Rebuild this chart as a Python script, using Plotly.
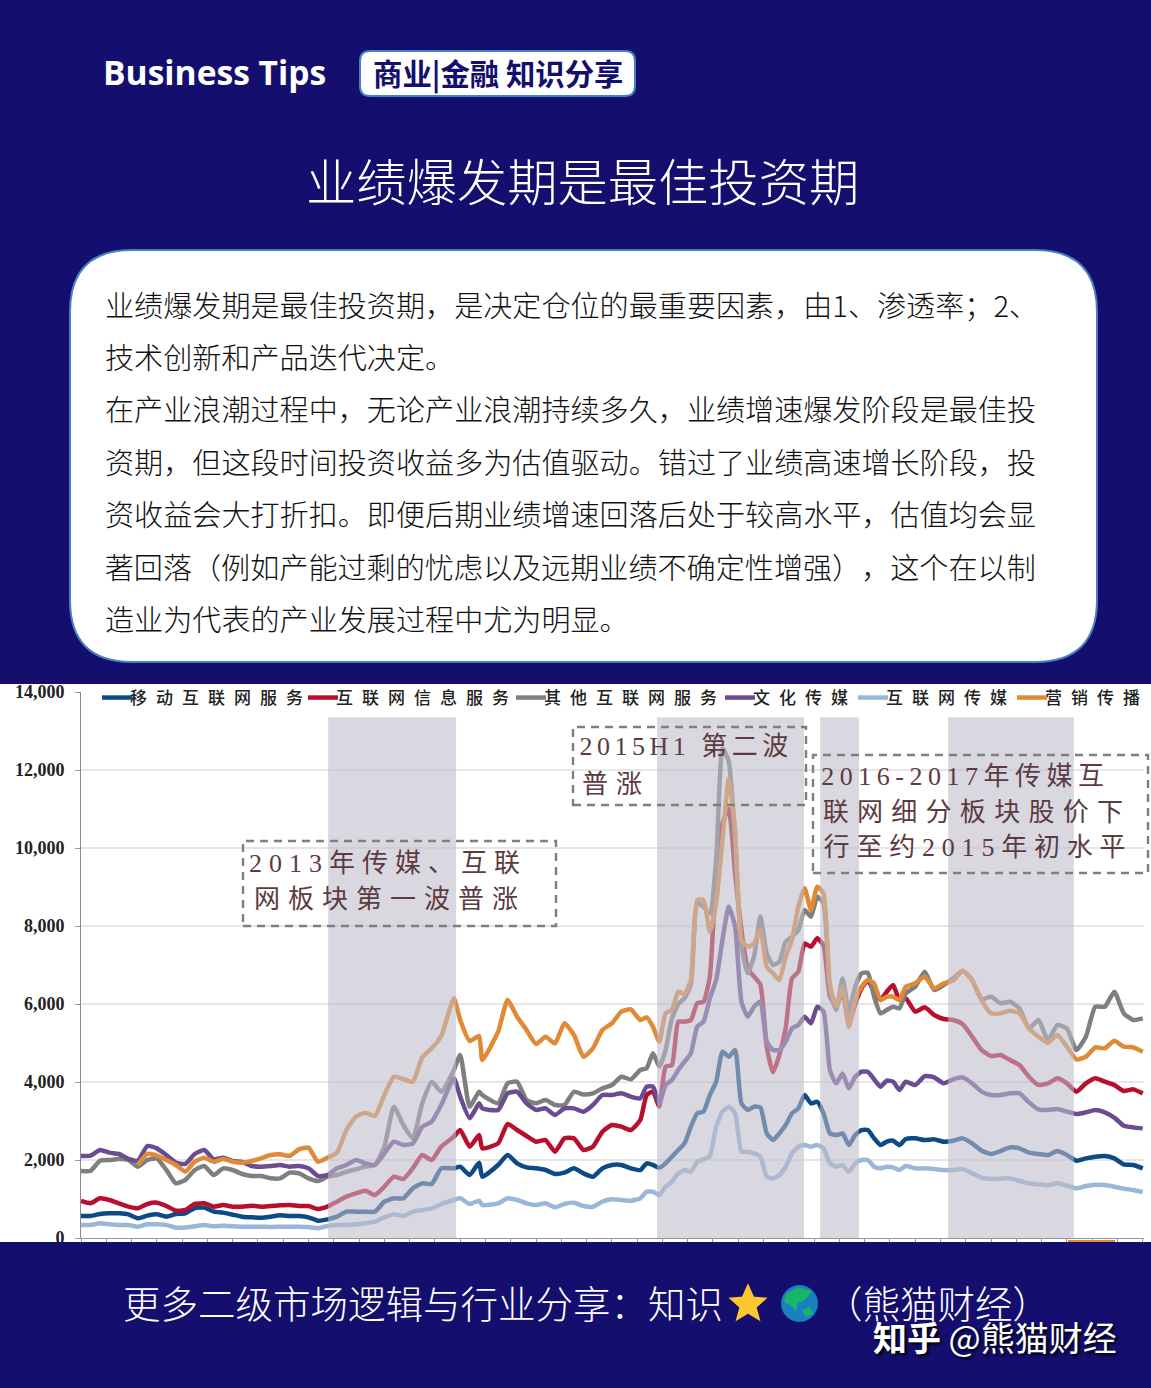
import plotly.graph_objects as go

W, H = 1151, 1388
NAVY = "#140e6e"
CJK = "Noto Sans CJK SC"

weeks = [0,3,6,9,12,15,18,21,24,27,30,33,36,39,42,45,48,51,54,57,
         60,63,66,69,72,75,78,81,84,87,90,93,96,99,102,105,108,111,114,118,
         120,123,126,127,132,135,138,141,144,147,150,153,156,159,162,165,168,171,174,177,
         179,181,183,185,187,189,191,193,195,197,199,201,203,205,207,209,211,213,215,217,
         219,221,223,225,227,229,231,233,235,237,239,241,243,245,247,249,
         251,253,255,257,259,261,
         264,267,270,273,276,279,282,285,288,291,294,297,300,303,306,309,312,315,318,321,324,327,330,333,336]

mobile_internet = [564,564,615,633,633,607,504,573,607,547,615,633,770,778,675,650,598,547,530,521,
                   547,581,564,564,530,445,478,547,675,675,675,675,931,1017,1017,1273,1401,1384,1786,1786,
                   1829,1615,1931,1572,1872,2128,1914,1812,1786,1743,1641,1675,1786,1658,1572,1786,1872,1872,1786,1743,
                   1914,1872,1800,1914,2085,2256,2427,2854,3196,3239,3666,4008,4777,4649,4820,3452,3281,3367,3350,2683,
                   2512,2683,2897,3196,3324,3666,3452,3495,3196,2683,2640,2683,2384,2640,2768,2768,
                   2555,2384,2469,2495,2384,2538,
                   2555,2512,2529,2469,2495,2555,2427,2239,2153,2230,2324,2299,2187,2153,2128,2230,2128,1982,2042,2085,2102,2042,1888,1871,1786]

internet_info = [949,889,1017,975,889,804,761,872,906,821,701,718,872,889,804,846,804,804,829,804,
                 821,838,846,821,821,744,803,931,1060,1145,1213,1102,1316,1572,1512,1786,2128,2000,2342,2598,
                 2769,2342,2641,2299,2427,2923,2769,2615,2470,2512,2213,2555,2555,2256,2342,2726,2897,2854,2769,3025,
                 3666,3752,3367,4392,4435,5546,5546,5589,6016,6059,6700,9350,10632,11000,9350,7900,6900,6700,6500,4905,
                 4250,4692,5375,6657,6828,7555,7470,7684,7500,6200,5950,6300,5500,6000,6400,6600,
                 6316,6102,6316,6487,6102,6145,
                 5803,5914,5717,5615,5589,5486,5162,4820,4666,4692,4563,4435,4136,3922,3965,4094,3965,3752,3965,4094,4008,3922,3769,3811,3709]

other_internet = [1718,1718,1983,2000,2026,2000,1829,2000,2043,1744,1402,1487,1744,1846,1616,1786,1744,1641,1590,1590,
                  1530,1530,1675,1658,1530,1462,1572,1615,1700,1760,1829,1872,2342,3367,2897,2555,3453,4008,3752,4307,
                  4692,3367,3752,3666,3453,3966,4008,3538,3453,3538,3410,3410,3750,3680,3709,3837,3923,4136,4068,4307,
                  4350,4735,4393,4820,5632,6000,6150,6500,8581,8495,8325,9692,12555,12213,10205,7470,6786,7213,8239,7299,
                  7000,7085,7598,7726,7897,8410,8239,8752,8581,6358,5845,6657,5803,6444,6785,6800,
                  6187,5760,5846,5931,5888,6273,
                  6444,6828,6358,6487,6657,6854,6615,6119,6187,6017,6059,5888,5375,5589,5076,5461,5375,4820,5162,5931,5931,6316,5760,5589,5632]

culture_media = [2103,2112,2257,2188,2154,2026,1983,2359,2299,2128,1932,1898,2154,2257,2017,2060,1974,1949,1846,1829,
                 1846,1872,1829,1846,1786,1590,1615,1786,1872,2000,1914,1872,2171,2470,2384,2427,2854,2983,3410,4094,
                 3624,3068,3453,3324,3282,3709,3752,3453,3282,3324,3153,3324,3324,3239,3410,3666,3666,3709,3624,3581,
                 3880,3880,3452,3922,4050,4307,4521,4734,5418,5546,6144,6615,7641,8496,7983,6059,5674,5931,6059,5033,
                 4820,4820,5033,5375,5461,5674,5503,5931,5803,4307,3965,4221,3837,4136,4264,4264,
                 4068,3880,4034,4008,3794,4008,
                 3922,4153,4119,3965,4068,4119,3965,3752,3666,3666,3709,3709,3478,3299,3281,3307,3239,3179,3222,3281,3222,3085,2880,2837,2811]

internet_media = [333,333,376,350,333,333,291,350,350,333,265,270,300,333,300,315,300,291,291,291,
                  280,291,291,291,280,248,307,333,333,350,376,418,530,606,564,675,718,760,872,974,
                  1017,872,957,846,889,1017,974,889,846,889,786,872,906,820,803,931,991,974,957,1017,
                  1188,1188,1102,1316,1444,1657,1743,1700,1957,2016,2100,2854,3239,3367,3196,2213,2213,2170,2085,1572,
                  1529,1614,1828,2170,2341,2384,2341,2384,2298,1914,1828,1871,1700,1914,2000,2000,
                  1828,1786,1828,1811,1743,1845,
                  1786,1786,1768,1743,1743,1768,1657,1546,1512,1521,1529,1461,1401,1375,1350,1401,1341,1273,1333,1367,1358,1316,1264,1230,1179]

marketing = [None,None,None,None,None,None,1872,2154,2111,2000,1872,1701,1957,2060,1957,2026,1957,1932,1974,2043,
             2128,2145,2103,2274,2316,1957,2059,2188,2769,3111,3213,3128,3666,4136,4077,4008,4632,4863,5179,6145,
             5589,5051,5179,4564,5290,6100,5675,5333,4974,5162,4991,5504,5205,4649,4863,5333,5504,5803,5863,5589,
             5658,5418,5034,5760,5845,6315,6256,6615,8666,8666,7854,8581,10205,11786,10461,7641,7470,7555,7897,6957,
             6786,6615,7213,7641,8496,8966,8410,9008,8837,6500,5931,6444,5418,6102,6444,6615,
             6529,6102,6187,6187,6102,6444,
             6529,6700,6401,6529,6598,6854,6615,6102,5760,5760,5828,5760,5375,5162,5008,5205,4905,4581,4649,4888,4863,5059,4905,4888,4777]

series_names = ["移动互联网服务", "互联网信息服务", "其他互联网服务", "文化传媒", "互联网传媒", "营销传播"]
series_values = [mobile_internet, internet_info, other_internet, culture_media, internet_media, marketing]
series_colors = ["#0c4a85", "#b80f2c", "#7f7f7f", "#6b4b92", "#9ab6d8", "#e08a35"]

band_start = [78.2, 182.3, 233.9, 274.4]
band_end = [118.7, 228.8, 246.2, 314.2]

body_lines = [
    "业绩爆发期是最佳投资期，是决定仓位的最重要因素，由1、渗透率；2、",
    "技术创新和产品迭代决定。",
    "在产业浪潮过程中，无论产业浪潮持续多久，业绩增速爆发阶段是最佳投",
    "资期，但这段时间投资收益多为估值驱动。错过了业绩高速增长阶段，投",
    "资收益会大打折扣。即便后期业绩增速回落后处于较高水平，估值均会显",
    "著回落（例如产能过剩的忧虑以及远期业绩不确定性增强），这个在以制",
    "造业为代表的产业发展过程中尤为明显。",
]
body_y = [304, 356, 408, 461, 513, 566, 618]
body_x = [105, 105, 105, 105, 105, 112.3, 105]


def px(x):
    return x / W


def py(y):
    return 1 - y / H


def rounded(x0, y0, x1, y1, r):
    pts = [("M", x0 + r, y0), ("L", x1 - r, y0), ("Q", x1, y0, x1, y0 + r), ("L", x1, y1 - r),
           ("Q", x1, y1, x1 - r, y1), ("L", x0 + r, y1), ("Q", x0, y1, x0, y1 - r), ("L", x0, y0 + r),
           ("Q", x0, y0, x0 + r, y0)]
    out = []
    for p in pts:
        c = p[0]
        nums = p[1:]
        coords = []
        for i in range(0, len(nums), 2):
            coords.append(f"{px(nums[i]):.5f},{py(nums[i+1]):.5f}")
        out.append(c + " ".join(coords))
    return " ".join(out) + " Z"


def poly(points):
    return "M" + " L".join(f"{px(a):.5f},{py(b):.5f}" for a, b in points) + " Z"


def rect(x0, y0, x1, y1, fill, layer="below"):
    return dict(type="rect", xref="paper", yref="paper", x0=px(x0), x1=px(x1), y0=py(y1), y1=py(y0),
                fillcolor=fill, line_width=0, layer=layer)


shapes = [
    rect(0, 684, W, 1242, "white"),
    dict(type="path", xref="paper", yref="paper", path=rounded(70, 250, 1097, 662, 62), fillcolor="white",
         line=dict(color="#4a7fc4", width=2), layer="below"),
    dict(type="path", xref="paper", yref="paper", path=rounded(360, 51, 635, 96, 10), fillcolor="white",
         line=dict(color="#4a7fc4", width=2), layer="below"),
]
for a, b in zip(band_start, band_end):
    shapes.append(dict(type="rect", xref="x", yref="y", x0=a, x1=b, y0=0, y1=13350,
                       fillcolor="rgba(190,187,201,0.58)", line_width=0, layer="above"))
for x0, y0, x1, y1 in [(243, 841, 556, 926), (573, 727, 806, 805), (813, 755, 1148, 873)]:
    shapes.append(dict(type="rect", xref="paper", yref="paper", x0=px(x0), x1=px(x1), y0=py(y1), y1=py(y0),
                       fillcolor="rgba(0,0,0,0)", line=dict(color="#7f7f7f", width=2.4, dash="8px,6px"),
                       layer="above"))
shapes.append(rect(0, 1242, W, H, NAVY, layer="above"))
shapes.append(rect(1068, 1240, 1115, 1242, "#e08a35", layer="above"))
# star
star_c = (748, 1304)
star_outer = [(0, -17), (16, -5), (10, 14), (-10, 14), (-16, -5)]
star_inner = [(5, -6), (7, 3), (0, 8), (-7, 3), (-5, -6)]
star_pts = []
for o, i in zip(star_outer, star_inner):
    star_pts.append((star_c[0] + o[0], star_c[1] + o[1]))
    star_pts.append((star_c[0] + i[0], star_c[1] + i[1]))
shapes.append(dict(type="path", xref="paper", yref="paper", path=poly(star_pts), fillcolor="#fcc72f",
                   line=dict(color="#fcc72f", width=3), layer="above"))
# globe
shapes.append(dict(type="circle", xref="paper", yref="paper", x0=px(781), x1=px(818), y0=py(1322), y1=py(1285),
                   fillcolor="#1a7fc0", line_width=0, layer="above"))
shapes.append(dict(type="path", xref="paper", yref="paper",
                   path=poly([(786, 1294), (798, 1287), (812, 1291), (805, 1300), (798, 1303), (796, 1311),
                               (790, 1305), (784, 1302)]),
                   fillcolor="#18b56a", line_width=0, layer="above"))
shapes.append(dict(type="path", xref="paper", yref="paper",
                   path=poly([(802, 1310), (810, 1307), (813, 1314), (806, 1317)]),
                   fillcolor="#18b56a", line_width=0, layer="above"))


def note(text, x, y, size, color, family=CJK, anchor="left", weight=None, shadow=None):
    f = dict(size=size, color=color, family=family)
    if weight:
        f["weight"] = weight
    if shadow:
        f["shadow"] = shadow
    return dict(text=text, xref="paper", yref="paper", x=px(x), y=py(y), xanchor=anchor, yanchor="middle",
                showarrow=False, font=f, borderpad=0, borderwidth=0)


MAROON = "#5c3b40"
SERIF = "Liberation Serif, " + CJK
annotations = [
    note("Business Tips", 103, 72, 33.6, "white", family="Open Sans", weight=700),
    note("商业|金融 知识分享", 373, 72, 29.4, NAVY, weight=700),
    note("业绩爆发期是最佳投资期", 582.5, 179, 50.3, "white", anchor="center", weight=300),
]
for t, x, y in zip(body_lines, body_x, body_y):
    annotations.append(note(t, x, y, 29.1, "#111111", weight=300))
annotations += [
    note("更多二级市场逻辑与行业分享：知识", 123, 1301, 37.5, "white", weight=300),
    note("（熊猫财经）", 825, 1301, 37.5, "white", weight=300),
    note("<b>知乎</b> @熊猫财经", 873, 1336, 34, "white", shadow="2px 2px 3px #000"),
]
chart_notes = [
    ("2013年传媒、互联", 388, 863, 7.0),
    ("网板块第一波普涨", 390, 899, 8.0),
    ("2015H1 第二波", 685.5, 747, 4.5),
    ("普涨", 616, 784, 8.0),
    ("2016-2017年传媒互", 965, 776, 5.5),
    ("联网细分板块股价下", 977, 812, 8.3),
    ("行至约2015年初水平", 978, 848, 6.8),
]
css = ["body{margin:0;overflow:hidden;background:%s}" % NAVY,
       ".annotation-text{text-spacing-trim:space-all}",
       ".legendtext{letter-spacing:9px}", ".legend .scrollbox{clip-path:none!important}"]
for t, x, y, sp in chart_notes:
    css.append('.annotation[data-index="%d"] text{letter-spacing:%.1fpx}' % (len(annotations), sp))
    annotations.append(note(t, x, y, 26, MAROON, family=SERIF, anchor="center"))

fig = go.Figure()
for name, vals, col in zip(series_names, series_values, series_colors):
    assert len(vals) == len(weeks), (name, len(vals), len(weeks))
    fig.add_trace(go.Scatter(x=weeks, y=vals, name=name, mode="lines", connectgaps=False,
                             line=dict(color=col, width=4.5, shape="spline", smoothing=0.5)))

legend_left = 96
legend_x = [102, 308, 516, 725, 858, 1017]

fig.update_layout(
    width=W, height=H, margin=dict(l=0, r=0, t=0, b=0, autoexpand=False), autosize=False,
    paper_bgcolor=NAVY, plot_bgcolor="rgba(0,0,0,0)",
    shapes=shapes, annotations=annotations, showlegend=True,
    legend=dict(orientation="h", x=px(legend_left), xanchor="left", y=py(698), yanchor="middle",
                bgcolor="rgba(0,0,0,0)", borderwidth=0, itemwidth=30, tracegroupgap=0,
                font=dict(family=CJK, size=17, color="#222222", weight=500)),
    xaxis=dict(domain=[px(81), px(1144)], range=[0, 336.4], dtick=8, tick0=0, ticks="outside", ticklen=4,
               tickcolor="#999999", showticklabels=False, showgrid=False, zeroline=False,
               showline=True, linecolor="#999999", linewidth=1),
    yaxis=dict(domain=[py(1238), py(692)], range=[0, 14000], dtick=2000, tickformat=",",
               ticks="outside", ticklen=5, tickcolor="#999999", showline=True, linecolor="#8a8a8a", linewidth=1,
               showgrid=True, gridcolor="#e6e6ea", gridwidth=1.5, zeroline=False, ticklabelstandoff=7,
               tickfont=dict(family="Liberation Serif", size=18, color="#222222", weight=700)),
)

post = """
var gd=document.getElementById('{plot_id}');
var s=document.createElement('style');
s.textContent=%r;
document.head.appendChild(s);
var xs=%s, left=%d;
function placeLegend(){
  gd.querySelectorAll('.legend .traces').forEach(function(g,i){
    var m=/translate\\(([^,]+),\\s*([^)]+)\\)/.exec(g.getAttribute('transform')||'');
    var yy=m?m[2]:0;
    g.setAttribute('transform','translate('+(xs[i]-left-5)+','+yy+')');
    var t=g.querySelector('.legendtext');
    if(t){t.setAttribute('x',33);}
  });
}
placeLegend();
setTimeout(placeLegend,50);
setTimeout(placeLegend,300);
""" % (" ".join(css), legend_x, legend_left)
fig.write_html("out.html", post_script=post, config=dict(displayModeBar=False))
